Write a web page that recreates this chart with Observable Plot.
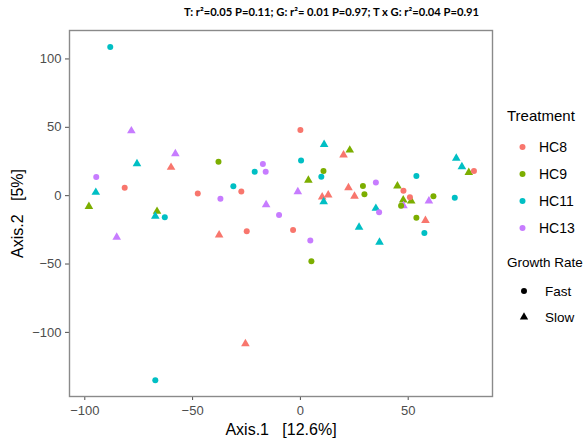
<!DOCTYPE html>
<html><head><meta charset="utf-8">
<script src="https://cdn.jsdelivr.net/npm/d3@7"></script>
<script src="https://cdn.jsdelivr.net/npm/@observablehq/plot@0.6"></script>
<style>
body{margin:0;background:#fff;}
#wrap{position:relative;width:587px;height:438px;font-family:"Liberation Sans",Arial,sans-serif;}
#title{height:24px;line-height:24px;font-family:Lato,"Open Sans",sans-serif;font-weight:bold;font-size:11.2px;padding-left:184px;white-space:pre;color:#000;}
#legend{position:absolute;left:507px;top:107px;color:#000;}
.lt{font-size:15px;height:18px;line-height:18px;}
.items{margin-top:8.5px;}
.li{height:27px;display:flex;align-items:center;font-size:14px;}
.lg{font-size:13.5px;margin-top:11.5px;height:20px;line-height:20px;}
.gitems{margin-top:5px;}
.gi{height:26px;display:flex;align-items:center;font-size:13.5px;}
</style></head>
<body><div id="wrap"><div id="title"></div><div id="chart"></div><div id="legend"></div></div>
<script>
const titleText = "T: r\u00b2=0.05 P=0.11; G: r\u00b2= 0.01 P=0.97; T x G: r\u00b2=0.04 P=0.91";
const treatments = ["HC8","HC9","HC11","HC13"];
const colors = ["#F8766D","#7CAE00","#00BFC4","#C77CFF"];
const growthRates = ["Fast","Slow"];
const xTicks = [-100,-50,0,50];
const yTicks = [-100,-50,0,50,100];
const xDomain = [-107.1, 89.1];
const yDomain = [-146.9, 120.8];

const treatment = [
 "HC8","HC8","HC8","HC8","HC8","HC8","HC8","HC8","HC8",
 "HC8","HC8","HC8","HC8","HC8","HC8","HC8","HC8","HC8",
 "HC9","HC9","HC9","HC9","HC9","HC9","HC9","HC9",
 "HC9","HC9","HC9","HC9","HC9","HC9","HC9","HC9",
 "HC11","HC11","HC11","HC11","HC11","HC11","HC11","HC11","HC11","HC11",
 "HC11","HC11","HC11","HC11","HC11","HC11","HC11","HC11","HC11","HC11",
 "HC13","HC13","HC13","HC13","HC13","HC13","HC13","HC13",
 "HC13","HC13","HC13","HC13","HC13","HC13","HC13"
];
const growth = [
 "Fast","Fast","Fast","Fast","Fast","Fast","Fast","Fast","Fast",
 "Slow","Slow","Slow","Slow","Slow","Slow","Slow","Slow","Slow",
 "Fast","Fast","Fast","Fast","Fast","Fast","Fast","Fast",
 "Slow","Slow","Slow","Slow","Slow","Slow","Slow","Slow",
 "Fast","Fast","Fast","Fast","Fast","Fast","Fast","Fast","Fast","Fast",
 "Slow","Slow","Slow","Slow","Slow","Slow","Slow","Slow","Slow","Slow",
 "Fast","Fast","Fast","Fast","Fast","Fast","Fast","Fast",
 "Slow","Slow","Slow","Slow","Slow","Slow","Slow"
];
const axis1 = [
 -47.6,-81.5,-27.4,0,-24.9,-3.4,80.5,47.8,50.8,
 -60,20,10.1,12.9,22.3,25.1,58,-37.7,-25.5,
 -38,10.7,29,29.7,46.7,61.7,53.8,5.1,
 -98.1,-66.5,22.9,3.7,78.1,45,47.7,51.4,
 -88.2,-62.9,-67.3,0.3,-21.2,9.7,-31.1,53.8,71.6,57.5,
 -75.8,-94.9,-67.3,11,10.8,72.3,74.9,35,27.2,36.7,
 -94.7,-17.4,-16.1,-37.1,-9.9,4.6,35,36.5,
 -78.4,-58,-85.2,-1.2,-15.9,47.8,59.6
];
const axis2 = [
 1.5,5.8,3.1,48,-26,-25.1,18,3.6,-1.2,
 20.7,29.7,-1,0.5,5.8,-0.5,-18.2,-28.7,-108.3,
 24.8,18,7,1,-7.3,-0.5,-16.1,-48,
 -8,-11.5,33.3,11.2,17,7,-3.2,-3.9,
 108.8,-15.8,-135,25.8,17.5,13.9,6.8,14.4,-1.5,-27.3,
 23.4,2.4,-15.1,37.5,-4.4,27.3,21.2,-9.3,-23.1,-34.1,
 13.6,23.1,17.5,-2.2,-14.1,-32.8,9.7,-12.2,
 47.4,30.7,-30.4,2.9,-6.6,-7.3,-3.9
];

const data = axis1.map((v,i)=>({a1:v,a2:axis2[i],t:treatment[i],g:growth[i]}));

document.getElementById("title").textContent = titleText;

const chart = Plot.plot({
  width: 587, height: 414,
  marginLeft: 69, marginRight: 95, marginTop: 6, marginBottom: 42,
  style: {fontFamily: '"Liberation Sans", Arial, sans-serif', background: "#fff"},
  x: {domain: xDomain},
  y: {domain: yDomain},
  color: {domain: treatments, range: colors},
  symbol: {domain: growthRates, range: ["circle","triangle"]},
  marks: [
    Plot.axisX({ticks: xTicks, tickSize: 4, tickPadding: 5, fontSize: 13, color: "#4d4d4d", label: null}),
    Plot.axisY({ticks: yTicks, tickSize: 4, tickPadding: 4, fontSize: 13, color: "#4d4d4d", label: null}),
    Plot.axisX({ticks: [], tickSize: 0, fontSize: 16, color: "#000", label: "Axis.1\u00a0\u00a0\u00a0[12.6%]", labelAnchor: "center", labelOffset: 38, labelArrow: "none"}),
    Plot.axisY({ticks: [], tickSize: 0, fontSize: 16, color: "#000", label: "Axis.2\u00a0\u00a0\u00a0[5%]", labelAnchor: "center", labelOffset: 58, labelArrow: "none"}),
    Plot.dot(data, {x: "a1", y: "a2", fill: "t", symbol: "g", r: d => d.g === "Fast" ? 2.9 : 3.3}),
    Plot.frame({stroke: "#8a8a8a", strokeWidth: 1.4})
  ]
});
document.getElementById("chart").appendChild(chart);

// legend
const lg = d3.select("#legend");
lg.append("div").attr("class","lt").text("Treatment");
const items = lg.append("div").attr("class","items");
treatments.forEach((t,i)=>{
  const row = items.append("div").attr("class","li");
  row.append("svg").attr("width",32).attr("height",12)
    .append("circle").attr("cx",15.5).attr("cy",6).attr("r",3).attr("fill",colors[i]);
  row.append("span").text(t);
});
lg.append("div").attr("class","lg").text("Growth Rate");
const gitems = lg.append("div").attr("class","gitems");
growthRates.forEach((g,i)=>{
  const row = gitems.append("div").attr("class","gi");
  const s = row.append("svg").attr("width",38).attr("height",12);
  s.append("path").attr("transform","translate(17,6)")
    .attr("d", d3.symbol(i===0?d3.symbolCircle:d3.symbolTriangle, i===0?28:30)())
    .attr("fill","#000");
  row.append("span").text(g);
});
</script></body></html>
